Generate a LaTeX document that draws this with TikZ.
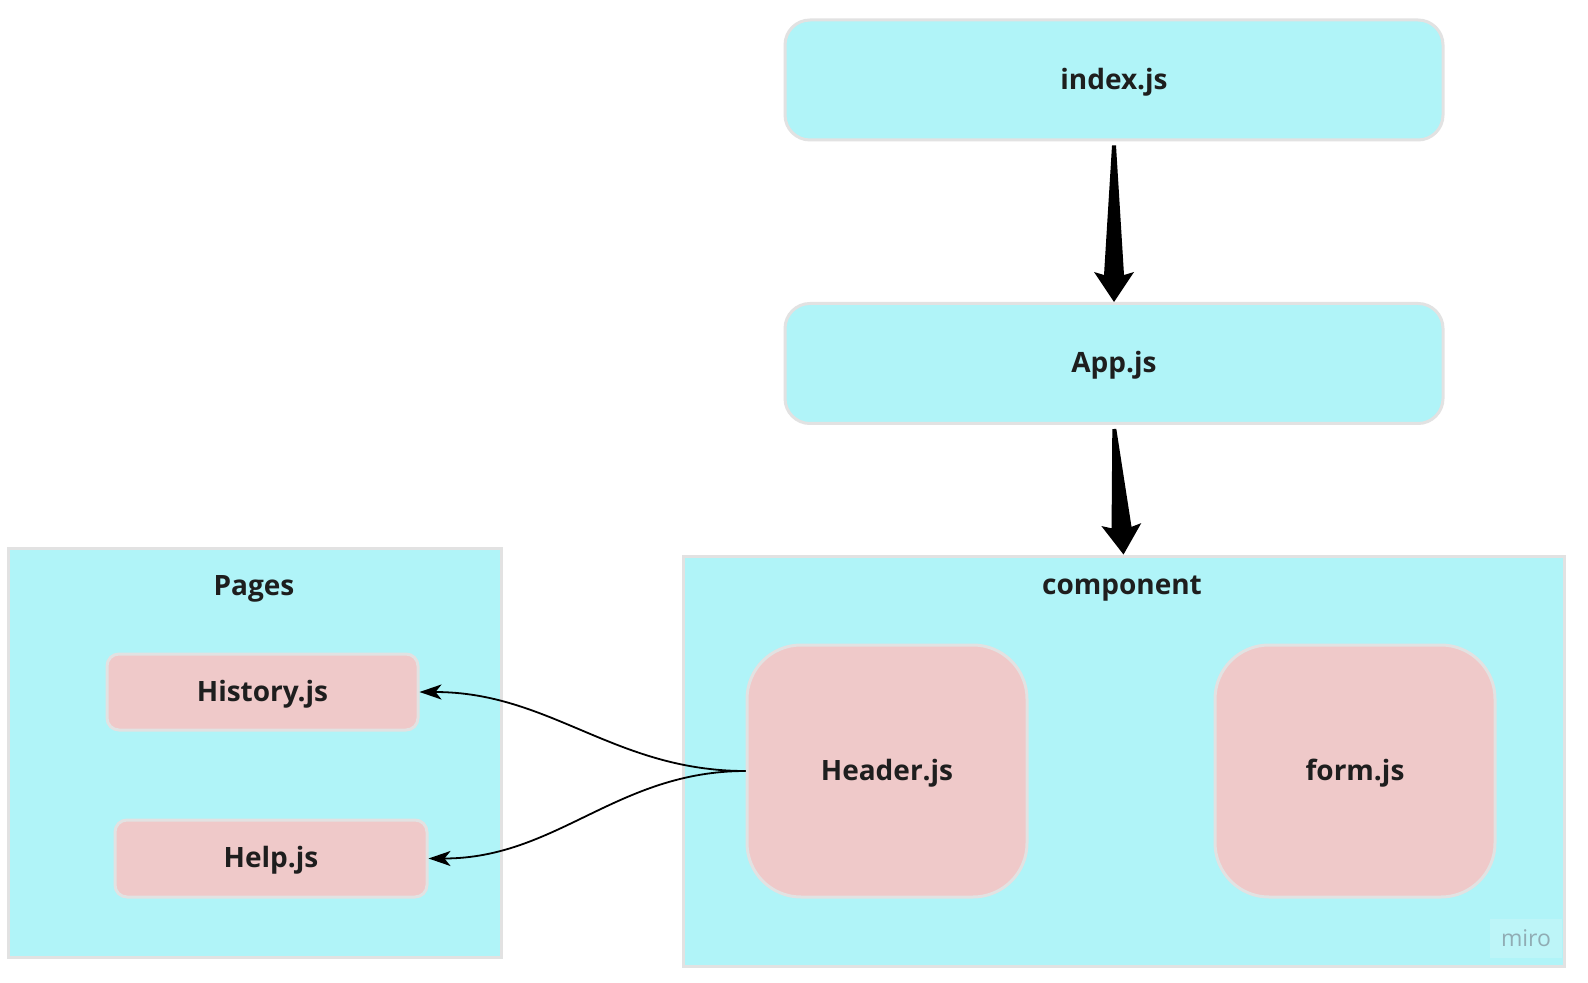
\documentclass[tikz,border=0pt]{standalone}
\usepackage{fontspec}
\setmainfont{Open Sans}
\usetikzlibrary{calc,arrows.meta}

\definecolor{boxcyan}{HTML}{B0F4F8}
\definecolor{boxpink}{HTML}{EFC9C9}
\definecolor{boxedge}{HTML}{E2E2E2}
\definecolor{labelink}{HTML}{1E1E1E}
\definecolor{markbg}{HTML}{BDF5F8}
\definecolor{markink}{HTML}{90ACB4}

% Tapered arrow drawn as a filled outline from #1 to #2
\newcommand\taperarrow[2]{%
  \path ($(#1)!2pt!(#2)$) coordinate (ta);
  \path ($(#2)!13.5pt!(#1)$) coordinate (tb);
  \path ($(#2)!15pt!(#1)$) coordinate (tc);
  \fill[black]
    ($(ta)!1pt!90:(#2)$) --
    ($(tb)!5pt!90:(#2)$) --
    ($(tc)!10pt!90:(#2)$) --
    (#2) --
    ($(tc)!10pt!-90:(#2)$) --
    ($(tb)!5pt!-90:(#2)$) --
    ($(ta)!1pt!-90:(#2)$) -- cycle;
}

\tikzset{
  labelfont/.style={font=\bfseries\fontsize{14}{17}\selectfont, text=labelink},
  boxlabel/.style={labelfont, text depth=1.2pt},
  filebox/.style={draw=boxedge, line width=1.5pt, fill=boxcyan,
    rounded corners=12.5pt, minimum width=329pt, minimum height=60pt, boxlabel},
  groupbox/.style={draw=boxedge, line width=1.5pt, fill=boxcyan},
  pagebox/.style={draw=boxedge, line width=1.5pt, fill=boxpink,
    rounded corners=6pt, minimum height=38pt, boxlabel},
  partbox/.style={draw=boxedge, line width=1.5pt, fill=boxpink,
    rounded corners=27pt, minimum width=140pt, minimum height=126pt, boxlabel},
  grouptitle/.style={labelfont},
  link/.style={line width=0.9pt, -{Stealth[length=11pt,width=7.5pt,inset=3pt]}},
}

\begin{document}
\begin{tikzpicture}[x=0.5pt,y=-0.5pt]
  \useasboundingbox (0,0) rectangle (1588,983);
  \fill[white] (0,0) rectangle (1588,983);

  % top chain
  \node[filebox] (index) at (1114,80) {index.js};
  \node[filebox] (app) at (1114,363.5) {App.js};

  % groups
  \node[groupbox, minimum width=246.5pt, minimum height=204.5pt] (pages) at (254.5,752.5) {};
  \node[groupbox, minimum width=440.5pt, minimum height=205pt] (component) at (1123.5,761) {};
  \node[grouptitle] (pagestitle) at (254,589) {Pages};
  \node[grouptitle] (comptitle) at (1122,589) {component};

  % watermark
  \node[fill=markbg, minimum width=36pt, minimum height=19.5pt, inner sep=0pt,
    font=\fontsize{11.5}{13}\selectfont, text=markink] (mark) at (1526,938.5) {miro};

  % pages
  \node[pagebox, minimum width=155.5pt] (history) at (262.5,692) {History.js};
  \node[pagebox, minimum width=156pt, minimum height=38.5pt] (help) at (271,858.5) {Help.js};

  % components
  \node[partbox] (header) at (887,771) {Header.js};
  \node[partbox] (form) at (1355,771) {form.js};

  % connectors
  \taperarrow{index.south}{app.north}
  \taperarrow{app.south}{component.north}
  \draw[link] (header.west) to[out=180,in=0] (history.east);
  \draw[link] (header.west) to[out=180,in=0] (help.east);
\end{tikzpicture}
\end{document}
